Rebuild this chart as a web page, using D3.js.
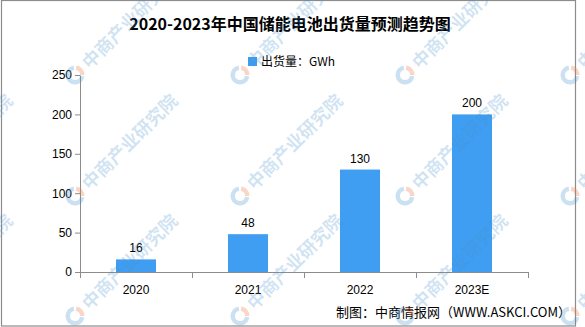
<!DOCTYPE html>
<html>
<head>
<meta charset="utf-8">
<script src="https://cdn.jsdelivr.net/npm/d3@7"></script>
<style>
  html, body { margin: 0; padding: 0; background: #fff; }
  svg { display: block; }
  .num { font-family: "Liberation Sans", Arial, sans-serif; font-size: 12px; fill: #000; }
  .cjk { font-family: "Noto Sans CJK SC", "Noto Sans", sans-serif; }
</style>
</head>
<body>
<svg id="chart" width="585" height="327"></svg>
<script>
// Shipments of energy-storage batteries in China, GWh
const categories = ["2020", "2021", "2022", "2023E"];
const shipments = [16, 48, 130, 200];
const yTicks = [0, 50, 100, 150, 200, 250];

const titleText = "2020-2023年中国储能电池出货量预测趋势图";
const legendText = "出货量：GWh";
const sourceText = "制图：中商情报网（WWW.ASKCI.COM）";
const watermarkText = "中商产业研究院";

const barColor = "#3f9ef2";
const axisColor = "#8c8c8c";

const svg = d3.select("#chart");

// Plot area
const plotLeft = 80, plotRight = 528, plotTop = 75, plotBottom = 272;

const x = d3.scaleBand()
  .domain(categories)
  .range([plotLeft, plotRight])
  .paddingInner(0.643)
  .paddingOuter(0.3215);

const y = d3.scaleLinear()
  .domain([0, 250])
  .range([plotBottom, plotTop]);

// Outer frame
svg.append("rect")
  .attr("x", 1.5).attr("y", 0.5)
  .attr("width", 574).attr("height", 325.5)
  .attr("fill", "#fff")
  .attr("stroke", axisColor)
  .attr("stroke-width", 1.2);

// Title
svg.append("text")
  .attr("class", "cjk")
  .attr("x", 290).attr("y", 30)
  .attr("text-anchor", "middle")
  .attr("font-size", 16)
  .attr("font-weight", 700)
  .attr("fill", "#000")
  .text(titleText);

// Legend
svg.append("rect")
  .attr("x", 248).attr("y", 57)
  .attr("width", 9).attr("height", 9)
  .attr("fill", barColor);
svg.append("text")
  .attr("class", "cjk")
  .attr("x", 261).attr("y", 66)
  .attr("font-size", 12)
  .attr("fill", "#000")
  .text(legendText);

// Bars
svg.append("g").selectAll("rect")
  .data(categories)
  .join("rect")
  .attr("x", d => x(d))
  .attr("y", (d, i) => y(shipments[i]))
  .attr("width", x.bandwidth())
  .attr("height", (d, i) => y(0) - y(shipments[i]))
  .attr("fill", barColor);

// Value labels
svg.append("g").selectAll("text")
  .data(categories)
  .join("text")
  .attr("class", "num")
  .attr("x", d => x(d) + x.bandwidth() / 2)
  .attr("y", (d, i) => y(shipments[i]) - 7)
  .attr("text-anchor", "middle")
  .text((d, i) => shipments[i]);

// Y axis
const yAxis = d3.axisLeft(y)
  .tickValues(yTicks)
  .tickSize(5)
  .tickPadding(3)
  .tickSizeOuter(0);
const gy = svg.append("g")
  .attr("transform", `translate(${plotLeft},0)`)
  .call(yAxis);
gy.attr("font-family", null).attr("font-size", null);
gy.select(".domain").attr("stroke", axisColor);
gy.selectAll(".tick line").attr("stroke", axisColor);
gy.selectAll(".tick text").attr("class", "num");

// X axis: baseline, category boundary ticks, centred labels
const step = x.step();
const boundaries = d3.range(categories.length + 1).map(i => plotLeft + i * step);
const gx = svg.append("g");
gx.append("line")
  .attr("x1", plotLeft).attr("x2", plotRight)
  .attr("y1", plotBottom + 0.5).attr("y2", plotBottom + 0.5)
  .attr("stroke", axisColor);
gx.selectAll("line.bt")
  .data(boundaries)
  .join("line")
  .attr("class", "bt")
  .attr("x1", d => Math.round(d) + 0.5).attr("x2", d => Math.round(d) + 0.5)
  .attr("y1", plotBottom).attr("y2", plotBottom + 6)
  .attr("stroke", axisColor);
gx.selectAll("text")
  .data(categories)
  .join("text")
  .attr("class", "num")
  .attr("x", d => x(d) + x.bandwidth() / 2)
  .attr("y", 294)
  .attr("text-anchor", "middle")
  .text(d => d);

// Source note
svg.append("text")
  .attr("class", "cjk")
  .attr("x", 571).attr("y", 317)
  .attr("text-anchor", "end")
  .attr("font-size", 13)
  .attr("fill", "#000")
  .text(sourceText);

// Diagonal watermark grid
const wmCols = [-90, 75, 240, 405, 570];
const wmRows = [75, 196, 316];
const wm = svg.append("g").attr("pointer-events", "none");
wmRows.forEach(cy => {
  wmCols.forEach(cx => {
    const g = wm.append("g").attr("transform", `translate(${cx},${cy})`);
    const arc = d3.arc().innerRadius(5).outerRadius(9.5);
    g.append("path")
      .attr("d", arc({ startAngle: Math.PI * 0.55, endAngle: Math.PI * 1.95 }))
      .attr("fill", "rgb(70,145,205)")
      .attr("fill-opacity", 0.28);
    g.append("path")
      .attr("d", arc({ startAngle: Math.PI * 0.05, endAngle: Math.PI * 0.5 }))
      .attr("fill", "rgb(240,120,70)")
      .attr("fill-opacity", 0.3);
    g.append("text")
      .attr("class", "cjk")
      .attr("transform", "rotate(-45)")
      .attr("x", 14).attr("y", 7)
      .attr("font-size", 18)
      .attr("font-weight", 700)
      .attr("fill", "rgb(70,145,205)")
      .attr("fill-opacity", 0.25)
      .text(watermarkText);
  });
});
</script>
</body>
</html>
